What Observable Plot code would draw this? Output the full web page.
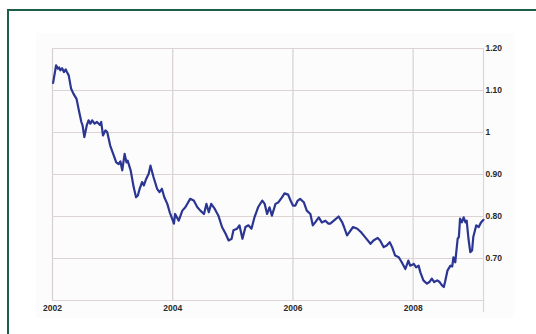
<!DOCTYPE html>
<html><head><meta charset="utf-8">
<script src="https://cdn.jsdelivr.net/npm/d3@7"></script>
<script src="https://cdn.jsdelivr.net/npm/@observablehq/plot@0.6"></script>
<style>
html,body{margin:0;padding:0;background:#fff;width:536px;height:334px;overflow:hidden;}
#frame{position:absolute;left:7px;top:9px;width:600px;height:400px;border:2.5px solid #1d5e48;box-sizing:border-box;}
#panel{position:absolute;left:36px;top:33px;width:478px;height:285px;background:#fcfcfc;}
#chart{position:absolute;left:0;top:0;}
</style></head><body>
<div id="frame"></div><div id="panel"></div><div id="chart"></div>
<script>
const years = [
2002.01,2002.06,2002.09,2002.11,2002.13,2002.16,2002.19,2002.22,2002.24,2002.27,
2002.31,2002.35,2002.40,2002.44,2002.48,2002.50,2002.53,2002.57,2002.60,2002.63,
2002.66,2002.70,2002.74,2002.79,2002.81,2002.84,2002.88,2002.91,2002.96,2003.02,
2003.06,2003.10,2003.13,2003.16,2003.20,2003.23,2003.25,2003.30,2003.35,2003.39,
2003.42,2003.45,2003.49,2003.52,2003.56,2003.60,2003.63,2003.68,2003.74,2003.78,
2003.82,2003.86,2003.91,2003.95,2003.99,2004.02,2004.04,2004.10,2004.16,2004.21,
2004.29,2004.35,2004.41,2004.46,2004.52,2004.56,2004.60,2004.64,2004.70,2004.76,
2004.82,2004.88,2004.93,2004.98,2005.01,2005.07,2005.11,2005.16,2005.21,2005.26,
2005.31,2005.36,2005.42,2005.49,2005.53,2005.57,2005.61,2005.65,2005.71,2005.76,
2005.82,2005.86,2005.92,2005.96,2006.00,2006.04,2006.08,2006.12,2006.18,2006.23,
2006.29,2006.33,2006.37,2006.43,2006.48,2006.54,2006.59,2006.62,2006.68,2006.76,
2006.82,2006.85,2006.90,2006.94,2007.00,2007.07,2007.13,2007.20,2007.29,2007.34,
2007.41,2007.45,2007.51,2007.56,2007.61,2007.65,2007.70,2007.76,2007.81,2007.87,
2007.92,2007.95,2008.01,2008.05,2008.09,2008.12,2008.17,2008.23,2008.27,2008.31,
2008.35,2008.40,2008.44,2008.48,2008.51,2008.53,2008.57,2008.62,2008.65,2008.67,
2008.70,2008.74,2008.76,2008.78,2008.81,2008.84,2008.87,2008.89,2008.92,2008.95,
2008.98,2009.00,2009.05,2009.09,2009.13,2009.17
];
const rates = [
1.118,1.160,1.152,1.155,1.148,1.153,1.144,1.150,1.144,1.136,
1.104,1.092,1.080,1.052,1.025,1.017,0.989,1.017,1.029,1.021,
1.029,1.021,1.025,1.018,1.025,0.993,1.005,1.001,0.969,0.945,
0.929,0.925,0.931,0.910,0.949,0.929,0.933,0.910,0.870,0.846,
0.850,0.866,0.882,0.874,0.890,0.902,0.921,0.894,0.866,0.858,
0.866,0.846,0.830,0.810,0.795,0.783,0.806,0.790,0.814,0.822,
0.842,0.838,0.822,0.814,0.806,0.830,0.810,0.830,0.818,0.802,
0.775,0.759,0.743,0.747,0.767,0.771,0.779,0.747,0.775,0.779,
0.771,0.798,0.822,0.838,0.830,0.806,0.822,0.802,0.830,0.834,
0.846,0.855,0.852,0.838,0.826,0.826,0.838,0.842,0.834,0.814,
0.806,0.779,0.786,0.798,0.786,0.790,0.783,0.783,0.790,0.800,
0.786,0.775,0.755,0.763,0.775,0.771,0.763,0.751,0.735,0.743,
0.749,0.743,0.727,0.731,0.739,0.727,0.707,0.703,0.691,0.675,
0.695,0.683,0.687,0.679,0.683,0.667,0.648,0.640,0.644,0.652,
0.644,0.648,0.644,0.636,0.632,0.644,0.671,0.683,0.681,0.703,
0.691,0.747,0.751,0.795,0.786,0.798,0.786,0.790,0.747,0.715,
0.719,0.751,0.779,0.775,0.786,0.792
];
const xTicks = [2002, 2004, 2006, 2008];
const xTickLabels = ["2002", "2004", "2006", "2008"];
const yTicks = [0.7, 0.8, 0.9, 1, 1.1, 1.2];
const yTickLabels = ["0.70", "0.80", "0.90", "1", "1.10", "1.20"];
const yBottom = 0.6;
const axisExtend = 0.571;

const data = years.map((t, i) => ({t, v: rates[i]}));
const xEnd = years[years.length - 1];

const chart = Plot.plot({
  width: 536, height: 334,
  marginLeft: 52, marginRight: 53, marginTop: 48, marginBottom: 34,
  style: {background: "transparent", fontFamily: "'Liberation Sans', Arial, sans-serif", fontSize: "8.5px", fontWeight: "bold", color: "#2a2a2a"},
  x: {domain: [2002, xEnd], ticks: xTicks, tickFormat: d => xTickLabels[xTicks.indexOf(d)], tickSize: 0, tickPadding: 4, label: null},
  y: {domain: [yBottom, 1.2], axis: "right", ticks: yTicks, tickFormat: d => yTickLabels[yTicks.indexOf(d)], tickSize: 0, tickPadding: 2, label: null},
  marks: [
    Plot.ruleX(xTicks, {y1: yBottom, y2: 1.2, stroke: "#d8d0d0", strokeWidth: 1.2}),
    Plot.ruleY([yBottom, ...yTicks], {x1: 2002, x2: xEnd, stroke: "#ddd3d3", strokeWidth: 1.2}),
    Plot.ruleX([xEnd], {y1: 1.2, y2: axisExtend, stroke: "#d8d8d8", strokeWidth: 1.2}),
    Plot.line(data, {x: "t", y: "v", stroke: "#2b3592", strokeWidth: 2.2, strokeLinejoin: "round"})
  ]
});
document.getElementById("chart").append(chart);
</script>
</body></html>
